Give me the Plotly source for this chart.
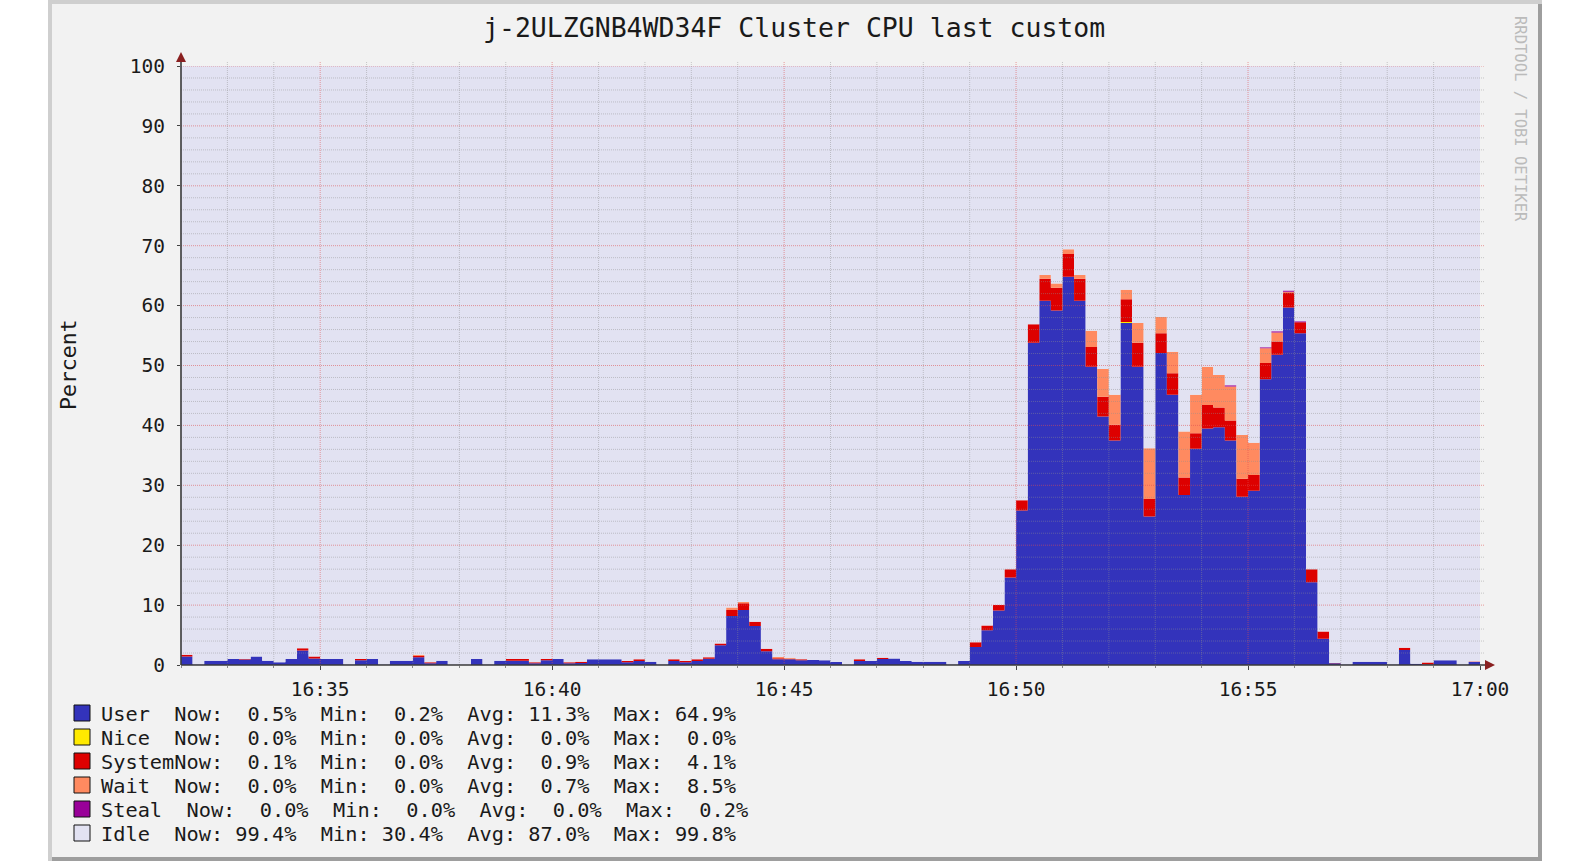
import plotly.graph_objects as go
import pandas as pd

# ---------------- data ----------------
TITLE = "j-2ULZGNB4WD34F Cluster CPU last custom"
START = "2024-01-01 16:32:00"
END = "2024-01-01 17:00:00"
STEP = "15s"

user = [
    1.4, 0.1, 0.7, 0.7, 1.0, 0.9, 1.4, 0.7, 0.45, 1.0,
    2.4, 1.1, 1.0, 1.0, 0.1, 0.8, 1.0, 0.1, 0.7, 0.7,
    1.3, 0.3, 0.7, 0.05, 0.05, 1.0, 0.1, 0.7, 0.7, 0.7,
    0.3, 0.8, 1.0, 0.3, 0.35, 0.95, 0.95, 0.95, 0.45, 0.67,
    0.55, 0.1, 0.67, 0.45, 0.67, 1.05, 3.3, 8.2, 9.2, 6.5,
    2.3, 0.95, 0.95, 0.8, 0.85, 0.8, 0.5, 0.05, 0.67, 0.67,
    1.0, 1.1, 0.67, 0.55, 0.55, 0.55, 0.1, 0.67, 3.0, 5.8,
    9.1, 14.6, 25.8, 53.8, 60.8, 59.2, 64.8, 60.8, 49.8, 41.5,
    37.5, 57.1, 49.8, 24.8, 52.1, 45.1, 28.4, 36.1, 39.5, 39.7,
    37.5, 28.1, 29.1, 47.7, 51.8, 59.7, 55.4, 13.8, 4.4, 0.3,
    0.1, 0.55, 0.55, 0.55, 0.1, 2.5, 0.2, 0.1, 0.8, 0.8,
    0.1, 0.5,
]
nice = [0.0] * 81 + [0.15] + [0.0] * 30
system = [
    0.3, 0, 0, 0, 0, 0.1, 0, 0, 0, 0,
    0.4, 0.3, 0, 0, 0, 0.2, 0, 0, 0, 0,
    0.2, 0.15, 0, 0, 0, 0, 0, 0, 0.3, 0.3,
    0.15, 0.2, 0, 0.15, 0.2, 0, 0, 0, 0.2, 0.3,
    0, 0, 0.3, 0.2, 0.3, 0.25, 0.3, 1.0, 1.1, 0.7,
    0.4, 0.17, 0.1, 0.15, 0, 0, 0, 0, 0.3, 0,
    0.2, 0, 0, 0, 0, 0, 0, 0, 0.8, 0.8,
    0.9, 1.4, 1.7, 3.1, 3.7, 3.8, 3.8, 3.7, 3.3, 3.3,
    2.6, 3.8, 4.0, 2.9, 3.3, 3.6, 2.9, 2.6, 3.9, 3.3,
    3.3, 3.0, 2.6, 2.7, 2.2, 2.5, 1.8, 2.2, 1.2, 0.05,
    0, 0, 0, 0, 0, 0.4, 0, 0.3, 0, 0,
    0, 0.1,
]
wait = [
    0, 0, 0, 0, 0, 0, 0, 0, 0, 0,
    0, 0, 0, 0, 0, 0, 0, 0, 0, 0,
    0.2, 0, 0, 0, 0, 0, 0, 0, 0, 0,
    0, 0, 0, 0, 0, 0, 0, 0, 0, 0,
    0, 0, 0, 0, 0, 0, 0, 0.4, 0.2, 0,
    0, 0.2, 0.15, 0, 0, 0, 0, 0, 0, 0,
    0, 0, 0, 0, 0, 0, 0, 0, 0, 0,
    0, 0, 0, 0, 0.6, 0.7, 0.8, 0.6, 2.7, 4.6,
    5.0, 1.6, 3.3, 8.5, 2.7, 3.6, 7.7, 6.4, 6.4, 5.4,
    5.7, 7.3, 5.4, 2.5, 1.5, 0.1, 0, 0, 0, 0,
    0, 0, 0, 0, 0, 0, 0, 0, 0, 0,
    0, 0,
]
steal = [0.0] * 90 + [0.2, 0, 0, 0.15, 0.2, 0.2, 0.2] + [0.0] * 15

series_names = ["User", "Nice", "System", "Wait", "Steal", "Idle"]
legend_labels = ["User  ", "Nice  ", "System", "Wait  ", "Steal  ", "Idle  "]
colors = ["#3333BB", "#FFEA00", "#DD0000", "#FF8A60", "#990099", "#E2E2F2"]
now_vals = ["0.5", "0.0", "0.1", "0.0", "0.0", "99.4"]
min_vals = ["0.2", "0.0", "0.0", "0.0", "0.0", "30.4"]
avg_vals = ["11.3", "0.0", "0.9", "0.7", "0.0", "87.0"]
max_vals = ["64.9", "0.0", "4.1", "8.5", "0.2", "99.8"]
y_ticks = list(range(0, 101, 10))
Y_LABEL = "Percent"
WATERMARK = "RRDTOOL / TOBI OETIKER"

# ---------------- build ----------------
idle = [100 - (u + n + s + w + st) for u, n, s, w, st in zip(user, nice, system, wait, steal)]
series = [user, nice, system, wait, steal, idle]

times = list(pd.date_range(START, periods=len(user), freq=STEP)) + [pd.Timestamp(END)]

MONO = "DejaVu Sans Mono"
TXT = "#1A1A1A"
fig = go.Figure()
for name, vals, col in zip(series_names, series, colors):
    fig.add_trace(go.Scatter(
        x=times, y=list(vals) + [vals[-1]], name=name, mode="lines",
        line=dict(width=0, shape="hv", color=col), fillcolor=col,
        stackgroup="cpu", hoverinfo="skip", showlegend=False,
    ))

# pixel -> paper helpers (plot area is 181..1480 x 66..665)
L, R, T, B = 181, 1480, 66, 665
def X(px):
    return (px - L) / (R - L)
def Y(py):
    return (B - py) / (B - T)

shapes = []
# frame (RRDtool 3D border)
shapes.append(dict(type="rect", xref="paper", yref="paper", layer="below",
                   x0=X(48), x1=X(1542), y0=Y(861), y1=Y(0),
                   fillcolor="#CFCFCF", line=dict(width=0)))
shapes.append(dict(type="rect", xref="paper", yref="paper", layer="below",
                   x0=X(52), x1=X(1542), y0=Y(861), y1=Y(4),
                   fillcolor="#9E9E9E", line=dict(width=0)))
shapes.append(dict(type="rect", xref="paper", yref="paper", layer="below",
                   x0=X(52), x1=X(1538), y0=Y(857), y1=Y(4),
                   fillcolor="#F2F2F2", line=dict(width=0)))

minor_col = "rgba(143,143,143,0.45)"
major_col = "rgba(222,79,79,0.55)"
# horizontal grid
for v in range(2, 101, 2):
    major = v % 10 == 0
    shapes.append(dict(type="line", xref="paper", yref="y", layer="above",
                       x0=0, x1=X(1485), y0=v, y1=v,
                       line=dict(color=major_col if major else minor_col, width=1, dash="1px,1px")))
# vertical grid
t0 = pd.Timestamp(START)
n_min = int((pd.Timestamp(END) - t0) / pd.Timedelta("1min"))
for m in range(1, n_min):
    t = t0 + pd.Timedelta(minutes=m)
    major = t.minute % 5 == 0
    shapes.append(dict(type="line", xref="x", yref="paper", layer="above",
                       x0=t, x1=t, y0=0, y1=Y(62),
                       line=dict(color=major_col if major else minor_col, width=1, dash="1px,1px")))
# axes lines + arrows
shapes.append(dict(type="line", xref="paper", yref="paper", layer="above",
                   x0=0, x1=0, y0=0, y1=Y(58), line=dict(color="#3A3A3A", width=1.6)))
shapes.append(dict(type="line", xref="paper", yref="paper", layer="above",
                   x0=0, x1=X(1488), y0=0, y1=0, line=dict(color="#3A3A3A", width=1.6)))
shapes.append(dict(type="path", xref="paper", yref="paper", layer="above",
                   path=f"M {X(176)} {Y(62)} L {X(181)} {Y(52)} L {X(186)} {Y(62)} Z",
                   fillcolor="#8A2020", line=dict(width=0)))
shapes.append(dict(type="path", xref="paper", yref="paper", layer="above",
                   path=f"M {X(1485)} {Y(660)} L {X(1495)} {Y(665)} L {X(1485)} {Y(670)} Z",
                   fillcolor="#8A2020", line=dict(width=0)))

annotations = []
# legend
for k, (lab, col, nv, mn, av, mx) in enumerate(zip(legend_labels, colors, now_vals, min_vals, avg_vals, max_vals)):
    row = 713 + 24 * k
    shapes.append(dict(type="rect", xref="paper", yref="paper", layer="above",
                       x0=X(74), x1=X(90), y0=Y(row + 8), y1=Y(row - 8),
                       fillcolor=col, line=dict(color="#111111", width=1)))
    txt = f"{lab}Now:{nv:>5}%  Min:{mn:>5}%  Avg:{av:>5}%  Max:{mx:>5}%"
    annotations.append(dict(xref="paper", yref="paper", x=X(98.5), y=Y(row + 1),
                            xanchor="left", yanchor="middle", showarrow=False,
                            text=txt.replace(" ", "\u00a0"),
                            font=dict(family=MONO, size=20.3, color=TXT)))
annotations.append(dict(xref="paper", yref="paper", x=X(68), y=Y(365), textangle=-90,
                        xanchor="center", yanchor="middle", showarrow=False, text=Y_LABEL,
                        font=dict(family=MONO, size=21.5, color=TXT)))
annotations.append(dict(xref="paper", yref="paper", x=X(1520), y=Y(119), textangle=90,
                        xanchor="center", yanchor="middle", showarrow=False, text=WATERMARK,
                        font=dict(family=MONO, size=15.5, color="#BBBBBB")))
annotations.append(dict(xref="paper", yref="paper", x=X(794), y=Y(27),
                        xanchor="center", yanchor="middle", showarrow=False, text=TITLE,
                        font=dict(family=MONO, size=26.5, color=TXT)))

tickfont = dict(family=MONO, size=19.5, color=TXT)
fig.update_layout(
    width=1570, height=866, autosize=False,
    margin=dict(l=L, r=1570 - R, t=T, b=866 - B, pad=0),
    paper_bgcolor="white", plot_bgcolor="#E2E2F2",
    shapes=shapes, annotations=annotations,
    xaxis=dict(type="date", range=[START, END], showgrid=False, zeroline=False, showline=False,
               ticks="outside", ticklen=4, tickcolor="#444", tickformat="%H:%M",
               dtick=300000, tick0="2024-01-01 16:35:00", tickfont=tickfont,
               ticklabelstandoff=3,
               minor=dict(ticks="outside", ticklen=2, dtick=60000, tickcolor="#888", showgrid=False)),
    yaxis=dict(range=[0, 100], tickvals=y_ticks, ticktext=[str(v) for v in y_ticks],
               showgrid=False, zeroline=False, showline=False,
               ticks="outside", ticklen=3, tickcolor="#444", tickfont=tickfont,
               ticklabelstandoff=8),
    showlegend=False,
)

fig.write_html(
    "out.html",
    config={"displayModeBar": False, "staticPlot": True},
    post_script="document.body.style.margin='0';document.body.style.overflow='hidden';",
)
